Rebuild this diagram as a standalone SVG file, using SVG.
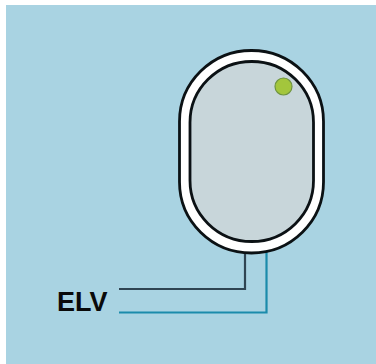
<svg xmlns="http://www.w3.org/2000/svg" width="376" height="364" viewBox="0 0 376 364">
<style>
.o{stroke:#0b1114;stroke-width:2.800}
.w{fill:none;stroke-width:2.200}
text{font-family:"Liberation Sans",Arial,sans-serif;font-weight:700;font-size:27px;fill:#0a0a0a}
</style>
<rect width="376" height="364" fill="#fff"/>
<rect x="6" y="5" width="370" height="359" fill="#a9d3e2"/>
<g id="connectors">
<path class="w" stroke="#2f4452" d="M119 289H245V252"/>
<path class="w" stroke="#1b8bab" d="M119 312.500H266.500V250"/>
</g>
<g id="device">
<rect class="o" x="179.500" y="50.500" width="144" height="202.500" rx="72" ry="71" fill="#fff"/>
<rect class="o" x="190" y="61.500" width="123.500" height="180" rx="61.700" ry="61" fill="#c8d6da"/>
</g>
<g id="indicator">
<circle cx="283.500" cy="86.500" r="8.500" fill="#a3c63c" stroke="#6f9440" stroke-width="1.200"/>
</g>
<g id="label">
<text x="57" y="311">ELV</text>
</g>
</svg>
